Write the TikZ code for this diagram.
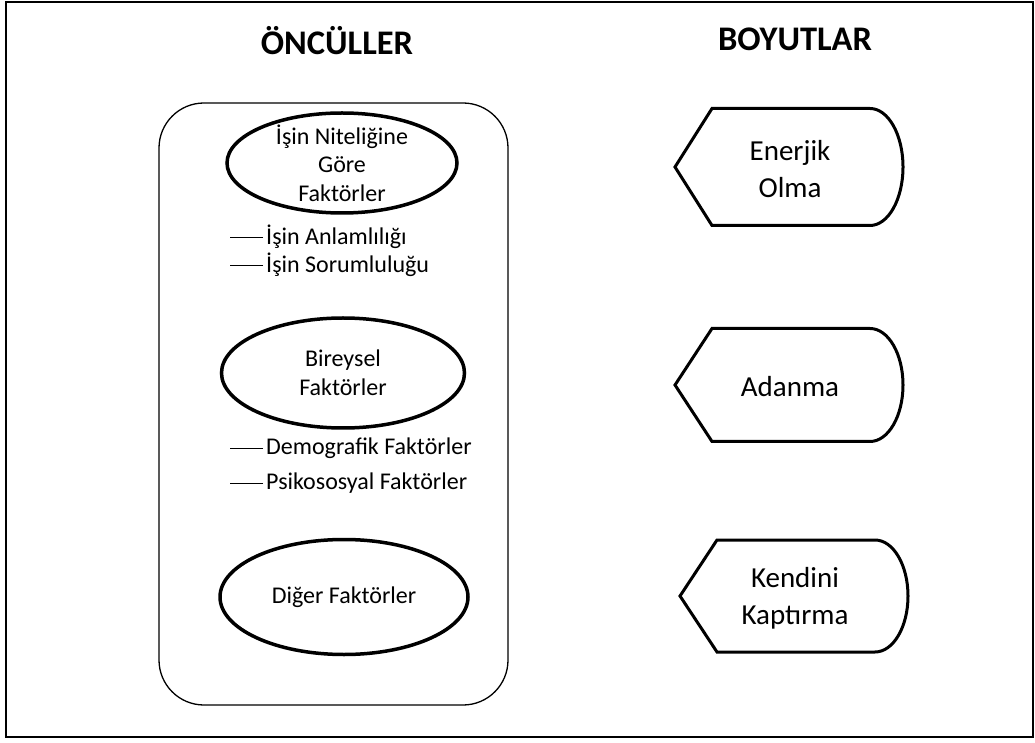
\documentclass[tikz,border=0pt]{standalone}
\usepackage{fontspec}
\setmainfont{Carlito}
\usetikzlibrary{positioning, shapes.geometric}

\begin{document}
\begin{tikzpicture}[x=1pt, y=1pt,
	oval/.style = {ellipse, draw, line width=3.5pt, inner sep=0pt},
	small/.style = {font=\fontsize{24}{28.5}\selectfont, align=center, inner sep=0pt},
	big/.style = {font=\fontsize{29}{37}\selectfont, align=center, inner sep=0pt},
	head/.style = {font=\fontsize{34.5}{40}\selectfont\bfseries, inner sep=0pt, anchor=base},
	dimbox/.style = {line width=3pt, line join=miter}]

\useasboundingbox (0,0) rectangle (1035,742);
\draw[line width=2pt] (6,5) rectangle (1033,740);

%----------TITLES-------------%
\draw (337,687) node [head] (oncul) {ÖNCÜLLER};
\draw (795,691) node [head] (boyut) {BOYUTLAR};

%----------ANTECEDENTS-------------%
\draw[line width=1.3pt, rounded corners=45pt] (159,37) rectangle (508,639);

\draw (342,579) node [oval, minimum width=230pt, minimum height=100pt] (is) {};
\draw (is.center) node [small] (istxt) {İşin Niteliğine\\Göre\\Faktörler};
\draw (343,369) node [oval, minimum width=243pt, minimum height=110pt] (birey) {};
\draw (birey.center) node [small] (bireytxt) {Bireysel\\Faktörler};
\draw (344,145) node [oval, minimum width=248pt, minimum height=115pt] (diger) {};
\draw (diger.center) node [small] (digertxt) {Diğer Faktörler};

\foreach \y/\n/\t in {505/anlam/{İşin Anlamlılığı}, 477/sorum/{İşin Sorumluluğu}, 294/demo/{Demografik Faktörler}, 259/psiko/{Psikososyal Faktörler}}{
	\draw (266,\y) node [small, anchor=west] (\n) {\t};
	\draw[line width=0.6pt] ([xshift=-3pt]\n.west) -- ++(-33,0);
};

%----------DIMENSIONS-------------%
\foreach \lx/\cy/\h/\n/\t in {675/575/58.5/enerjik/{Enerjik\\Olma}, 675/357/56.5/adanma/{Adanma}, 680/146/56/kendini/{Kendini\\Kaptırma}}{
	\draw[dimbox] (\lx,\cy) -- (\lx+37,\cy+\h) -- (\lx+195,\cy+\h) arc (90:-90:33 and \h) -- (\lx+37,\cy-\h) -- cycle;
	\draw (\lx+115,\cy-2) node [big] (\n) {\t};
};

\end{tikzpicture}
\end{document}
